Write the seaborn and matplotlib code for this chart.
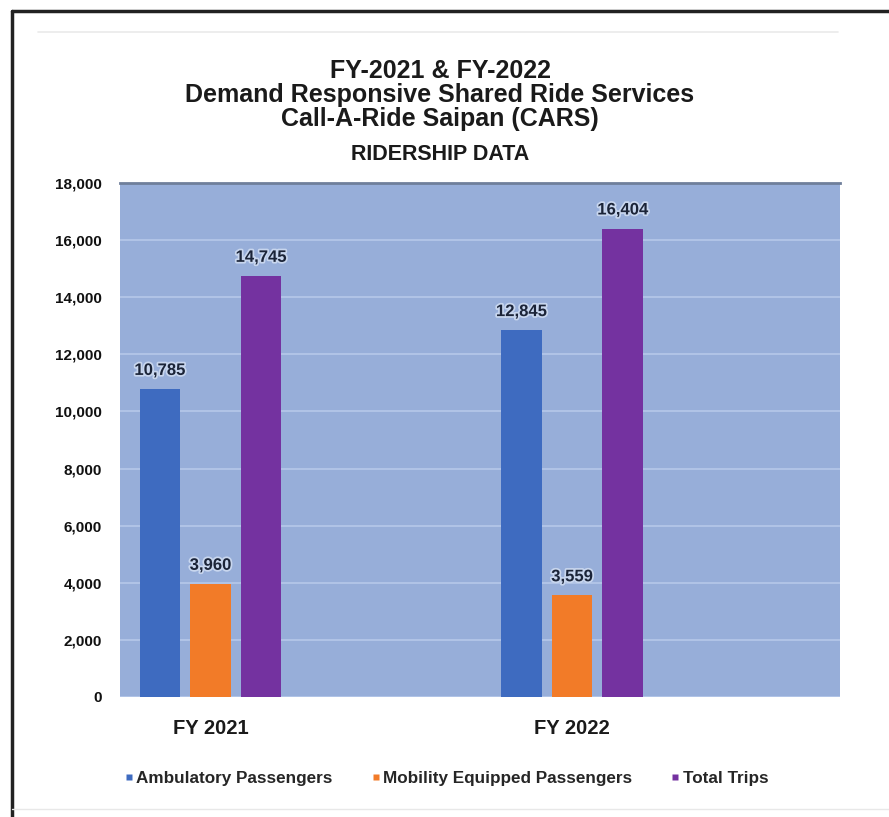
import matplotlib
matplotlib.use("Agg")
import matplotlib.pyplot as plt
import matplotlib.patheffects as pe
from matplotlib.lines import Line2D
import seaborn as sns
import pandas as pd

# ---- data ----
categories = ["FY 2021", "FY 2022"]
series = ["Ambulatory Passengers", "Mobility Equipped Passengers", "Total Trips"]
ambulatory = [10785, 12845]
mobility = [3960, 3559]
total_trips = [14745, 16404]
colors = ["#3E6BC0", "#F27B28", "#7432A0"]
title_lines = ["FY-2021 & FY-2022",
               "Demand Responsive Shared Ride Services",
               "Call-A-Ride Saipan (CARS)"]
subtitle = "RIDERSHIP DATA"
yticks = list(range(0, 18001, 2000))

df = pd.DataFrame({
    "Year": categories * 3,
    "Series": [s for s in series for _ in categories],
    "Value": ambulatory + mobility + total_trips,
})

sns.set_theme(style="white")
plt.rcParams["font.family"] = ["Liberation Sans", "DejaVu Sans"]

W, H = 889, 817
fig = plt.figure(figsize=(W / 100, H / 100), dpi=100)
fig.patch.set_facecolor("white")

def fx(x):
    return x / W

def fy(y):
    return 1 - y / H

ax = fig.add_axes([fx(120), fy(697), fx(840) - fx(120), fy(183) - fy(697)])
ax.set_facecolor("#97AED9")

sns.barplot(data=df, x="Year", y="Value", hue="Series", hue_order=series,
            order=categories, palette=colors, width=0.42, gap=0.2,
            saturation=1, ax=ax, legend=False, edgecolor="none")

ax.set_xlim(-0.25, 1.741)
ax.set_ylim(0, 18000)
ax.set_yticks(yticks)
ax.set_yticklabels([f"{v:,}" for v in yticks], fontsize=11, fontweight="bold",
                   color="#111111")
ax.tick_params(axis="y", length=0, pad=13)
ax.tick_params(axis="x", length=0, pad=16)
for lab in ax.get_xticklabels():
    lab.set_fontsize(14.5)
    lab.set_fontweight("bold")
    lab.set_color("#1a1a1a")
ax.set_xlabel("")
ax.set_ylabel("")
ax.set_axisbelow(True)
ax.yaxis.grid(True, color="#B3C6E8", lw=1.3)
for side in ["left", "right", "bottom"]:
    ax.spines[side].set_visible(False)
ax.spines["top"].set_color("#6F7F9B")
ax.spines["top"].set_linewidth(2)

# value labels
for cont in ax.containers:
    ax.bar_label(cont, labels=[f"{int(v):,}" for v in cont.datavalues],
                 padding=8, fontsize=12, fontweight="bold", color="#1B2438",
                 path_effects=[pe.withStroke(linewidth=2.5, foreground="#C8D6EE")])

# titles
ys = [71, 95, 119]
for t, y in zip(title_lines, ys):
    fig.text(fx(440), fy(y), t, ha="center", va="center", fontsize=18,
             fontweight="bold", color="#1a1a1a")
fig.text(fx(440), fy(154), subtitle, ha="center", va="center", fontsize=15.5,
         fontweight="bold", color="#1a1a1a")

# legend
handles = [Line2D([0], [0], marker="s", linestyle="none", markersize=5,
                  markerfacecolor=c, markeredgecolor="none") for c in colors]
leg = fig.legend(handles, series, loc="center", bbox_to_anchor=(fx(446), fy(778)),
                 ncol=3, frameon=False, handlelength=0.6, handletextpad=0.15,
                 columnspacing=2.2, prop={"weight": "bold", "size": 12.3})

# outer frame (top and left dark), inner faint frame
fig.add_artist(Line2D([fx(12), fx(889)], [fy(11), fy(11)], color="#222222", lw=2.5))
fig.add_artist(Line2D([fx(12), fx(12)], [fy(11), fy(817)], color="#222222", lw=2.5))
fig.add_artist(Line2D([fx(38), fx(838)], [fy(32), fy(32)], color="#EAEAEA", lw=1.2))
fig.add_artist(Line2D([fx(12), fx(889)], [fy(809), fy(809)], color="#E8E8E8", lw=1))

fig.savefig("out.png", dpi=100, facecolor="white")
